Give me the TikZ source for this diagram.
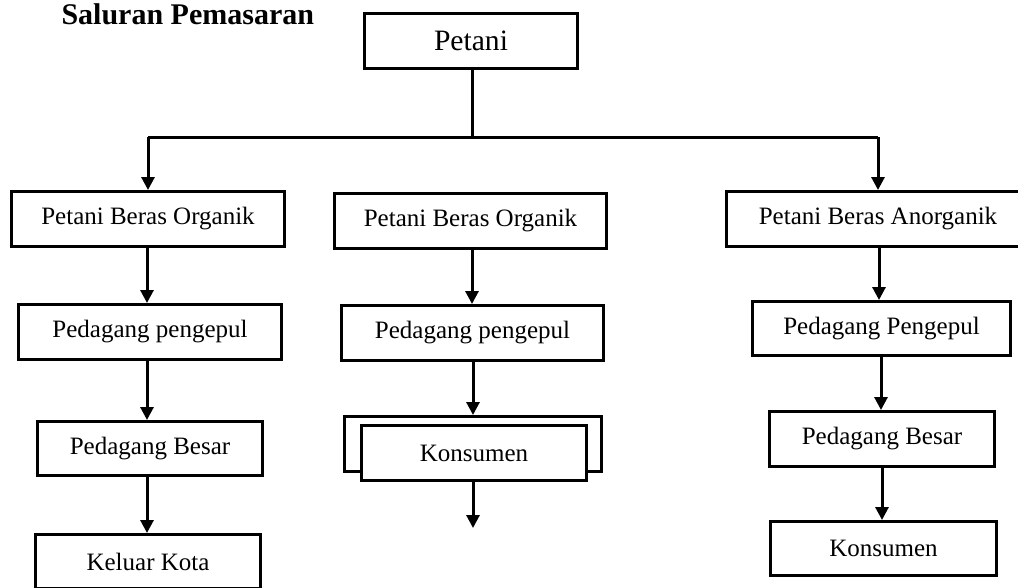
\documentclass[tikz,border=0pt]{standalone}
\usepackage{fontspec}
\setmainfont{Liberation Serif}
\usetikzlibrary{arrows.meta}
\begin{document}
\begin{tikzpicture}[x=1pt,y=-1pt,
  box/.style={draw=black, line width=3pt, fill=white, inner sep=0pt, minimum height=55pt,
    font=\fontsize{25}{30}\selectfont},
  conn/.style={line width=3pt},
  arr/.style={line width=3pt, -{Triangle[length=13pt,width=13pt]}}]
\useasboundingbox (0,0) rectangle (1018,587);
\clip (0,0) rectangle (1018,587);
\fill[white] (0,0) rectangle (1018,587);

\node[anchor=base west, font=\fontsize{30}{36}\selectfont\bfseries] (title) at (58,24) {Saluran Pemasaran};
\node[box, minimum width=213pt, font=\fontsize{29.6}{35}\selectfont] (pet) at (471,41) {Petani};

% left column
\node[box, minimum width=273pt] (l1) at (148,219) {Petani Beras Organik};
\node[box, minimum width=263pt] (l2) at (150,332) {Pedagang pengepul};
\node[box, minimum width=225pt, minimum height=54pt] (l3) at (150,448.5) {Pedagang Besar};
\node[box, minimum width=225pt, minimum height=54pt] (l4) at (148,561.5) {Keluar Kota};

% middle column
\node[box, minimum width=272pt] (m1) at (470.5,221) {Petani Beras Organik};
\node[box, minimum width=262pt] (m2) at (472.5,333) {Pedagang pengepul};
\node[box, minimum width=257pt] (m3b) at (473,444) {};
\node[box, minimum width=225pt] (m3) at (474,453) {Konsumen};
\coordinate (mend) at (473,528);

% right column
\node[box, minimum width=303pt] (r1) at (878,219) {Petani Beras Anorganik};
\node[box, minimum width=258pt, minimum height=54pt] (r2) at (881.5,328.5) {Pedagang Pengepul};
\node[box, minimum width=225pt] (r3) at (882,439) {Pedagang Besar};
\node[box, minimum width=226pt, minimum height=54pt] (r4) at (883.5,548.5) {Konsumen};

% connectors
\coordinate (j) at (472,137);
\draw[conn] (pet.south -| j) -- (j);
\draw[conn] (j) -- (j -| l1.north);
\draw[conn] (j) -- (j -| r1.north);
\draw[arr] (j -| l1.north) -- (l1.north);
\draw[arr] (j -| r1.north) -- (r1.north);

\draw[arr] (l1.south -| 147,0) -- (l2.north -| 147,0);
\draw[arr] (l2.south -| 147,0) -- (l3.north -| 147,0);
\draw[arr] (l3.south -| 147,0) -- (l4.north -| 147,0);

\draw[arr] (m1.south -| 472,0) -- (m2.north -| 472,0);
\draw[arr] (m2.south -| 473,0) -- (m3b.north -| 473,0);
\draw[arr] (m3.south -| mend) -- (mend);

\draw[arr] (r1.south -| 879,0) -- (r2.north -| 879,0);
\draw[arr] (r2.south -| 881,0) -- (r3.north -| 881,0);
\draw[arr] (r3.south -| 882,0) -- (r4.north -| 882,0);
\end{tikzpicture}
\end{document}
